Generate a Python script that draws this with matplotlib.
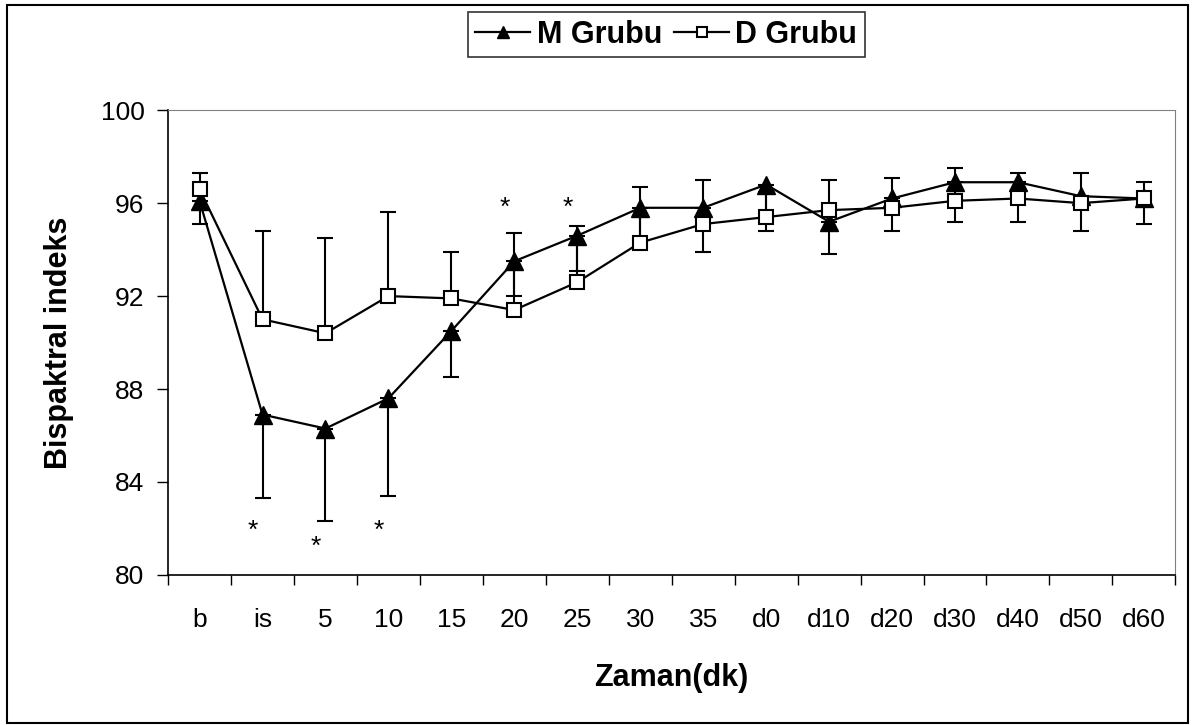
import matplotlib.pyplot as plt
import numpy as np

plt.rcParams['font.family'] = ['Liberation Sans', 'DejaVu Sans']

# Data
categories = ['b', 'is', '5', '10', '15', '20', '25', '30', '35',
              'd0', 'd10', 'd20', 'd30', 'd40', 'd50', 'd60']
m_values = [96.1, 86.9, 86.3, 87.6, 90.5, 93.5, 94.6, 95.8, 95.8,
            96.8, 95.2, 96.2, 96.9, 96.9, 96.3, 96.2]
m_lower = [95.1, 83.3, 82.3, 83.4, 88.5, 92.0, 93.1, 94.5, 93.9,
           94.8, 93.8, 94.8, 95.2, 95.2, 94.8, 95.1]
d_values = [96.6, 91.0, 90.4, 92.0, 91.9, 91.4, 92.6, 94.3, 95.1,
            95.4, 95.7, 95.8, 96.1, 96.2, 96.0, 96.2]
d_upper = [97.3, 94.8, 94.5, 95.6, 93.9, 94.7, 95.0, 96.7, 97.0,
           96.5, 97.0, 97.1, 97.5, 97.3, 97.3, 96.9]
star_labels = ['is', '5', '10', '20', '25']
star_y = [81.9, 81.2, 81.9, 95.8, 95.8]

x = np.arange(len(categories))
m_err = np.array(m_values) - np.array(m_lower)
d_err = np.array(d_upper) - np.array(d_values)

fig = plt.figure(figsize=(11.92, 7.25), dpi=100)
ax = fig.add_axes([0.141, 0.207, 0.845, 0.641])

# error bars (M: lower only, D: upper only)
ax.errorbar(x, m_values, yerr=[m_err, np.zeros_like(m_err)], fmt='none',
            ecolor='black', elinewidth=1.5, capsize=6, capthick=1.5, zorder=2)
ax.errorbar(x, d_values, yerr=[np.zeros_like(d_err), d_err], fmt='none',
            ecolor='black', elinewidth=1.5, capsize=6, capthick=1.5, zorder=2)

ax.plot(x, m_values, color='black', lw=1.6, marker='^', markersize=13,
        markerfacecolor='black', markeredgecolor='black', label='M Grubu', zorder=3)
ax.plot(x, d_values, color='black', lw=1.6, marker='s', markersize=10,
        markerfacecolor='white', markeredgecolor='black', markeredgewidth=1.5,
        label='D Grubu', zorder=4)

# significance marks
for lab, sy in zip(star_labels, star_y):
    ax.text(categories.index(lab) - 0.15, sy, '*', ha='center', va='center',
            fontsize=19)

ax.set_xlim(-0.5, len(categories) - 0.5)
ax.set_ylim(80, 100)
ax.set_yticks(np.arange(80, 101, 4))
ax.set_xticks(x)
ax.set_xticklabels(categories)
ax.set_xticks(np.arange(-0.5, len(categories), 1), minor=True)
ax.tick_params(axis='x', which='major', length=0, pad=24, labelsize=19)
ax.tick_params(axis='x', which='minor', length=7, width=1, direction='out')
ax.tick_params(axis='y', length=8, width=1, direction='out', labelsize=19, pad=9)

ax.spines['left'].set_color('black')
ax.spines['bottom'].set_color('black')
ax.spines['left'].set_linewidth(1.2)
ax.spines['bottom'].set_linewidth(1.2)
ax.spines['top'].set_color('#808080')
ax.spines['right'].set_color('#808080')

ax.set_ylabel('Bispaktral indeks', fontsize=22, fontweight='bold', labelpad=19)
ax.set_xlabel('Zaman(dk)', fontsize=22, fontweight='bold', labelpad=22)

leg = fig.legend(loc='center', bbox_to_anchor=(0.559, 0.952), ncol=2,
                 frameon=True, fancybox=False, edgecolor='black',
                 prop={'weight': 'bold', 'size': 22}, handlelength=1.8,
                 handletextpad=0.2, columnspacing=0.4, borderpad=0.25,
                 markerscale=0.67)
leg.get_frame().set_linewidth(1.2)

# outer chart border
fig.patches.append(plt.Rectangle((0.0059, 0.0028), 0.991, 0.990, transform=fig.transFigure,
                                 fill=False, edgecolor='black', linewidth=1.5))

plt.savefig('out.png', dpi=100)
